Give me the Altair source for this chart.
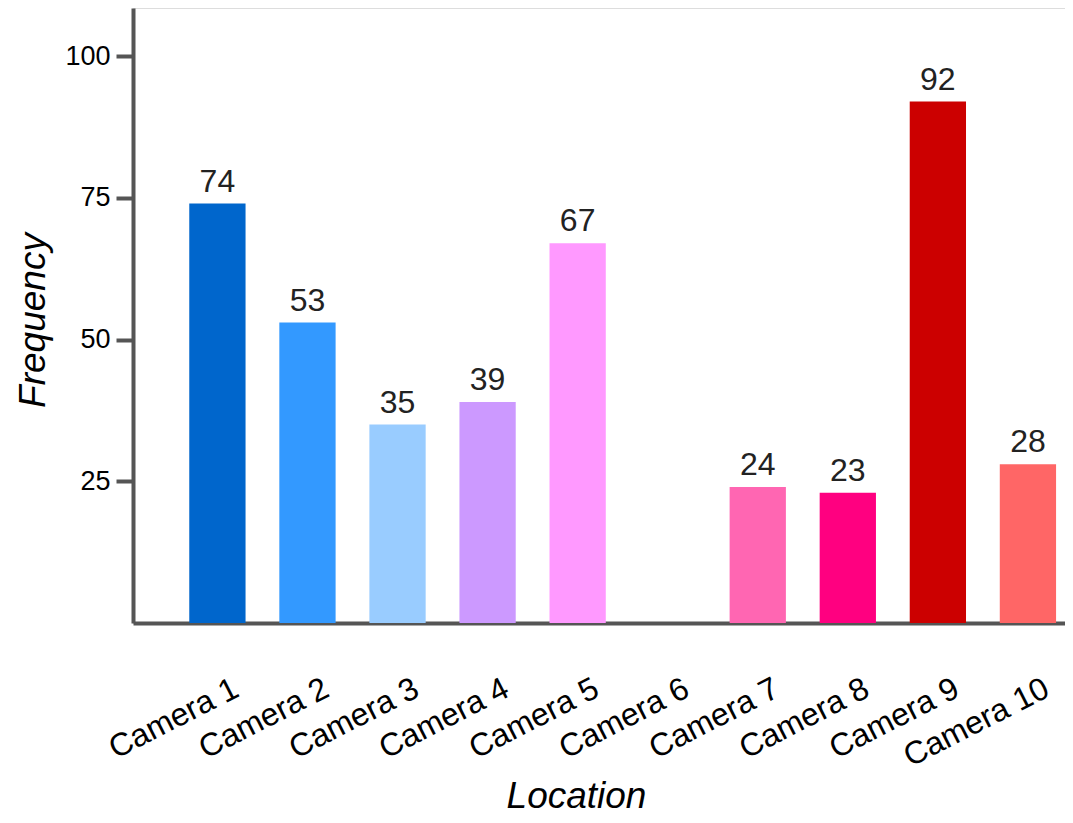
import altair as alt
import pandas as pd

cameras = ["Camera 1", "Camera 2", "Camera 3", "Camera 4", "Camera 5",
           "Camera 6", "Camera 7", "Camera 8", "Camera 9", "Camera 10"]
frequency = [74, 53, 35, 39, 67, 0, 24, 23, 92, 28]
colors = ["#0066CC", "#3399FF", "#99CCFF", "#CC99FF", "#FF99FF",
          "#999999", "#FF66B2", "#FF0080", "#CC0000", "#FF6666"]
y_ticks = [25, 50, 75, 100]

df = pd.DataFrame({"Location": cameras, "Frequency": frequency, "color": colors})

FONT = "Liberation Sans"
AX = "#555555"

x_scale = alt.Scale(domain=cameras, paddingInner=0.375, paddingOuter=0.362, align=0.863)
y_scale = alt.Scale(domain=[0, 108.5], nice=False, zero=True)

x_axis = alt.Axis(
    title="Location", titleFont=FONT, titleFontSize=37, titleFontStyle="italic",
    titleFontWeight="normal", titleColor="#000000",
    titleX=443, titleY=184, titleBaseline="alphabetic", titleAlign="center",
    labelFont=FONT, labelFontSize=32, labelColor="#000000",
    labelAngle=-27, labelAlign="right", labelBaseline="middle",
    labelPadding=63, labelOffset=19,
    ticks=False, domainColor=AX, domainWidth=4, grid=False,
)

y_axis = alt.Axis(
    values=y_ticks, title="Frequency", titleFont=FONT, titleFontSize=37,
    titleFontStyle="italic", titleFontWeight="normal", titleColor="#000000",
    titleX=-89, titleY=312, titleBaseline="alphabetic", titleAlign="center",
    titleAngle=-90,
    labelFont=FONT, labelFontSize=27, labelColor="#000000", labelPadding=6,
    labelLimit=300,
    tickSize=17, tickWidth=4, tickColor=AX,
    domainColor=AX, domainWidth=4, grid=False,
)

bars = alt.Chart(df).mark_bar().encode(
    x=alt.X("Location:N", sort=cameras, scale=x_scale, axis=x_axis),
    y=alt.Y("Frequency:Q", scale=y_scale, axis=y_axis),
    color=alt.Color("color:N", scale=None, legend=None),
)

labels = alt.Chart(df).transform_filter("datum.Frequency > 0").mark_text(
    font=FONT, fontSize=32, color="#222222", baseline="alphabetic", dy=-12
).encode(
    x=alt.X("Location:N", sort=cameras, scale=x_scale, axis=x_axis),
    y=alt.Y("Frequency:Q", scale=y_scale, axis=y_axis),
    text=alt.Text("Frequency:Q"),
)

chart = (bars + labels).properties(
    width=932,
    height=615,
    autosize=alt.AutoSizeParams(type="none"),
    padding={"left": 125, "top": 0, "right": 0, "bottom": 192},
).configure_view(stroke="transparent").configure(background="#ffffff")

chart.save("out.html", embed_options={"renderer": "svg", "actions": False})
